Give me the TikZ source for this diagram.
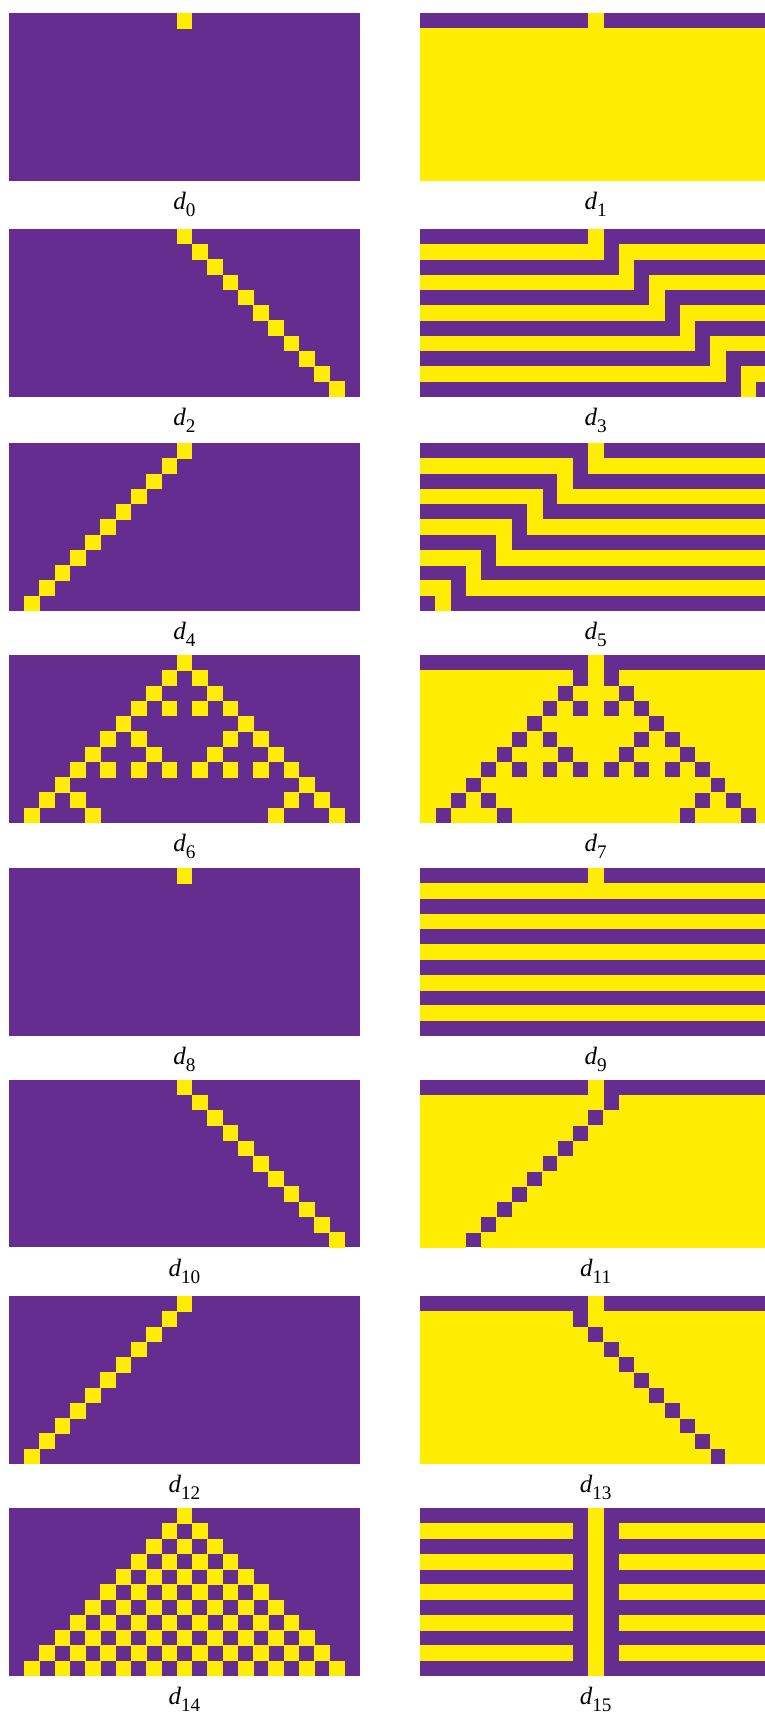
\documentclass[tikz,border=0pt]{standalone}
\usepackage{fontspec}
\setmainfont{Liberation Serif}
\definecolor{cpur}{HTML}{662D91}
\definecolor{cyel}{HTML}{FFED00}
\def\cellsz{15.27}
\newcommand\dlab[1]{{\fontsize{12.5}{15}\selectfont\itshape d}\raisebox{-3.3pt}{\fontsize{9.6}{11}\selectfont #1}}
\newcommand\caInit{%
  \foreach \cj in {-15,...,37}{\expandafter\xdef\csname ca\cj\endcsname{0}}%
  \expandafter\xdef\csname ca11\endcsname{1}}
\newcommand\caStep[4]{%
  \foreach \cj in {-14,...,36}{%
    \edef\cjm{\the\numexpr\cj-1\relax}%
    \edef\cjp{\the\numexpr\cj+1\relax}%
    \expandafter\xdef\csname cb\cj\endcsname{\ifcase\numexpr\csname ca\cjm\endcsname+2*\csname ca\cjp\endcsname\relax #1\or #2\or #3\or #4\fi}%
  }%
  \foreach \cj in {-14,...,36}{\expandafter\xdef\csname ca\cj\endcsname{\csname cb\cj\endcsname}}%
}
\newcommand\caDraw[2]{%
  \foreach \cj in {0,...,22}{%
    \ifnum\csname ca\cj\endcsname=1\relax
      \fill[cyel] ({#1+\cj*\cellsz},{#2}) rectangle ({#1+(\cj+1)*\cellsz+0.4},{#2+\cellsz+0.4});%
    \fi}}
\newcommand\caPanel[8]{%
  \fill[cpur] (#5,#6) rectangle ({#5+23*\cellsz},{#6+11*\cellsz});
  \begin{scope}
    \clip (#5,#6) rectangle ({#5+23*\cellsz},{#6+11*\cellsz});
    \caInit
    \foreach \crow in {0,...,10}{%
      \caDraw{#5}{#6+\crow*\cellsz}%
      \caStep{#1}{#2}{#3}{#4}}%
  \end{scope}
  \node[lab] (#7) at ({#5+11.5*\cellsz},{#6+11*\cellsz+29}) {\dlab{#8}};
}
\begin{document}
\begin{tikzpicture}[x=0.5pt,y=-0.5pt,lab/.style={inner sep=0pt,anchor=base}]
\useasboundingbox (0,0) rectangle (765,1713);
% bits: f(L=0,R=0), f(1,0), f(0,1), f(1,1)
\caPanel{0}{0}{0}{0}{8.8}{13}{l0}{0}
\caPanel{1}{1}{1}{1}{420}{13}{l1}{1}
\caPanel{0}{1}{0}{1}{8.8}{228.7}{l2}{2}
\caPanel{1}{0}{1}{0}{420}{228.7}{l3}{3}
\caPanel{0}{0}{1}{1}{8.8}{443}{l4}{4}
\caPanel{1}{1}{0}{0}{420}{443}{l5}{5}
\caPanel{0}{1}{1}{0}{8.8}{655}{l6}{6}
\caPanel{1}{0}{0}{1}{420}{655}{l7}{7}
\caPanel{0}{0}{0}{1}{8.8}{868}{l8}{8}
\caPanel{1}{1}{1}{0}{420}{868}{l9}{9}
\caPanel{0}{1}{0}{0}{8.8}{1079.5}{l10}{10}
\caPanel{1}{0}{1}{1}{420}{1079.5}{l11}{11}
\caPanel{0}{0}{1}{0}{8.8}{1296}{l12}{12}
\caPanel{1}{1}{0}{1}{420}{1296}{l13}{13}
\caPanel{0}{1}{1}{1}{8.8}{1508}{l14}{14}
\caPanel{1}{0}{0}{0}{420}{1508}{l15}{15}
\end{tikzpicture}
\end{document}
